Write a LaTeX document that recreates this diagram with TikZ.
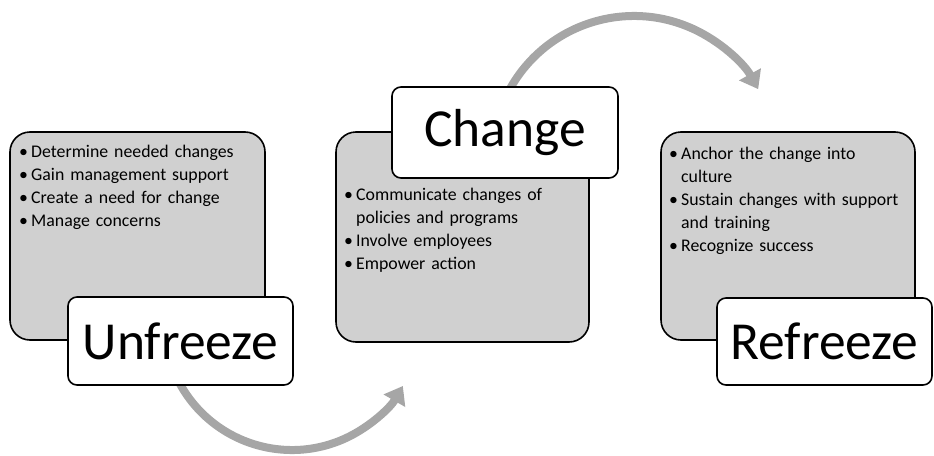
\documentclass[tikz,border=0pt]{standalone}
\usepackage{fontspec}
\setmainfont{Carlito}
\usetikzlibrary{arrows.meta}
\definecolor{panelgray}{RGB}{208,208,208}
\definecolor{arcgray}{RGB}{166,166,166}
% one bullet point with a hanging indent
\newcommand{\bul}{\par\noindent\hangindent=12pt\hangafter=1\makebox[12pt][l]{•}}
\tikzset{
  panel/.style={draw=black, line width=1.6pt, fill=panelgray, rounded corners=20pt},
  titlebox/.style={draw=black, line width=1.6pt, fill=white, rounded corners=9pt,
    font=\fontsize{53.5}{60}\selectfont, inner sep=0pt},
  bullets/.style={anchor=north west, inner sep=0pt, text width=270pt, align=left,
    font=\fontsize{17.8}{23}\selectfont},
  cyclearc/.style={draw=arcgray, line width=8pt,
    -{Triangle[width=24pt,length=17pt]}}
}
\begin{document}
\begin{tikzpicture}[x=1pt,y=-1pt]
\useasboundingbox (0,0) rectangle (934,455);

% centres of the two curved arrows
\coordinate (lowc) at (292,322);
\coordinate (highc) at (634,158);

% curved arrows between the phases (drawn first, so boxes cover their tails)
\draw[cyclearc] (lowc) ++(152:128) arc[start angle=152, end angle=30, radius=128];
\draw[cyclearc] (highc) ++(207:142) arc[start angle=207, end angle=331, radius=142];

% grey panels
\node[panel, minimum width=255pt, minimum height=208pt] (p1) at (137.5,236) {};
\node[panel, minimum width=253pt, minimum height=210pt] (p2) at (462.5,237) {};
\node[panel, minimum width=254pt, minimum height=208pt] (p3) at (788,236) {};

% bullet lists
\node[bullets] (t1) at (19,134) {%
  \bul Determine needed changes
  \bul Gain management support
  \bul Create a need for change
  \bul Manage concerns};
\node[bullets] (t2) at (344,177) {%
  \bul Communicate changes of\newline policies and programs
  \bul Involve employees
  \bul Empower action};
\node[bullets] (t3) at (669,136) {%
  \bul Anchor the change into\newline culture
  \bul Sustain changes with support\newline and training
  \bul Recognize success};

% phase titles
\node[titlebox, minimum width=225pt, minimum height=88pt] (unfreeze) at (180.5,341) {Unfreeze};
\node[titlebox, minimum width=226pt, minimum height=91pt] (change) at (505,132.5) {Change};
\node[titlebox, minimum width=215pt, minimum height=87pt] (refreeze) at (824.5,341.5) {Refreeze};
\end{tikzpicture}
\end{document}
